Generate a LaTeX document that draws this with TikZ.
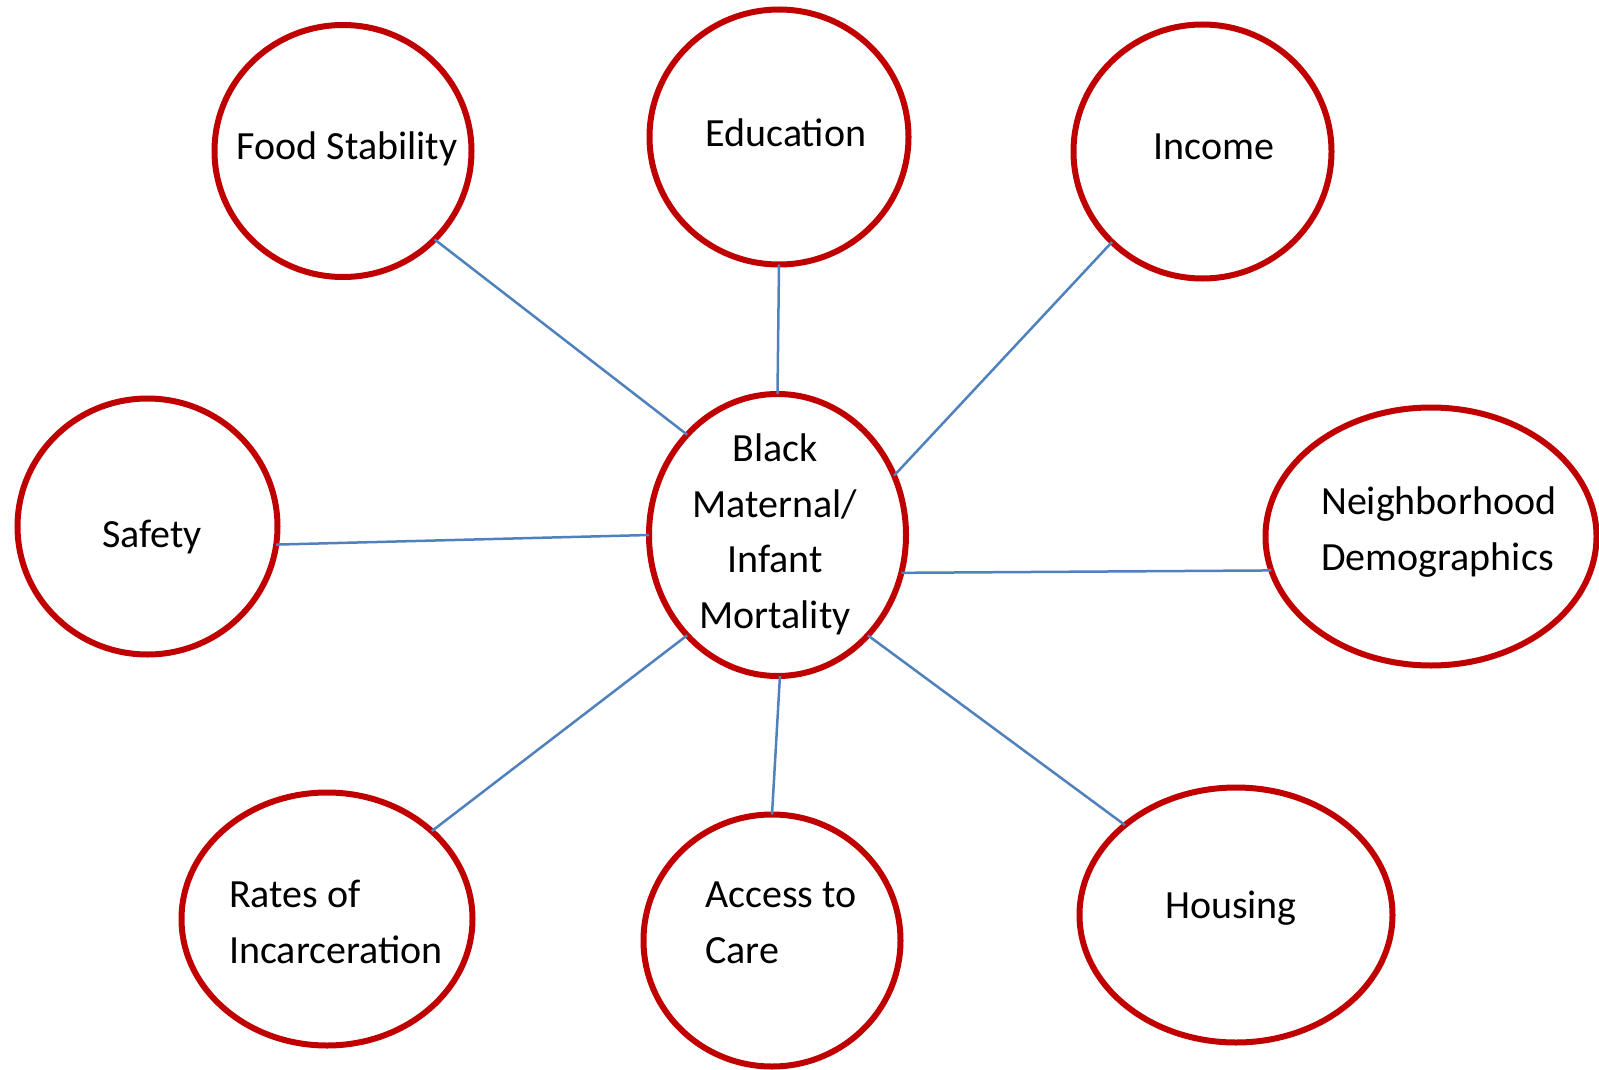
\documentclass[tikz,border=0pt]{standalone}
\usepackage{fontspec}
\setmainfont{Carlito}
\usetikzlibrary{shapes.geometric}
\definecolor{ringred}{HTML}{C00000}
\definecolor{linkblue}{HTML}{4F81BD}
\begin{document}
\begin{tikzpicture}[x=1pt,y=-1pt,
  ring/.style 2 args={draw=ringred, line width=6pt, ellipse, inner sep=0pt, outer sep=0pt, minimum width=#1, minimum height=#2},
  lbl/.style={font=\fontsize{40}{55.5}\selectfont, text=black, inner sep=0pt},
  link/.style={draw=linkblue, line width=2.5pt}]
\useasboundingbox (0,0) rectangle (1599,1070);
% rings
\node[ring={257}{252}] (food) at (343,151) {};
\node[ring={259}{255}] (edu) at (779,137) {};
\node[ring={258}{254}] (inc) at (1202.5,151.5) {};
\node[ring={260}{256}] (safety) at (147.5,526.5) {};
\node[ring={257}{282}] (hub) at (777.5,535) {};
\node[ring={331}{258}] (neigh) at (1431,536.5) {};
\node[ring={291}{253}] (incar) at (327,919) {};
\node[ring={257}{252}] (access) at (772,940.5) {};
\node[ring={313}{255}] (housing) at (1236,915) {};
% links
\draw[link] (food.-44) -- (hub.132);
\draw[link] (edu.-90) -- (hub.90);
\draw[link] (inc.225.6) -- (hub.27.7);
\draw[link] (safety.-8.7) -- (hub.180);
\draw[link] (hub.-17.7) -- (neigh.192);
\draw[link] (incar.40) -- (hub.228.8);
\draw[link] (access.90) -- (hub.-89.6);
\draw[link] (housing.141) -- (hub.-48);
% labels (multi-line nodes: base = last line)
\node[lbl, anchor=base] (tfood) at (347,160) {Food Stability};
\node[lbl, anchor=base] (tedu) at (786,147) {Education};
\node[lbl, anchor=base] (tinc) at (1214,160) {Income};
\node[lbl, anchor=base] (tsafety) at (152,547) {Safety};
\node[lbl, anchor=base, align=center] (thub) at (775,628) {Black\\Maternal/\\Infant\\Mortality};
\node[lbl, anchor=base west, align=left] (tneigh) at (1321,570) {Neighborhood\\Demographics};
\node[lbl, anchor=base west, align=left] (tincar) at (229,963) {Rates of\\Incarceration};
\node[lbl, anchor=base west, align=left] (taccess) at (705,963) {Access to\\Care};
\node[lbl, anchor=base] (thousing) at (1231,918) {Housing};
\end{tikzpicture}
\end{document}
